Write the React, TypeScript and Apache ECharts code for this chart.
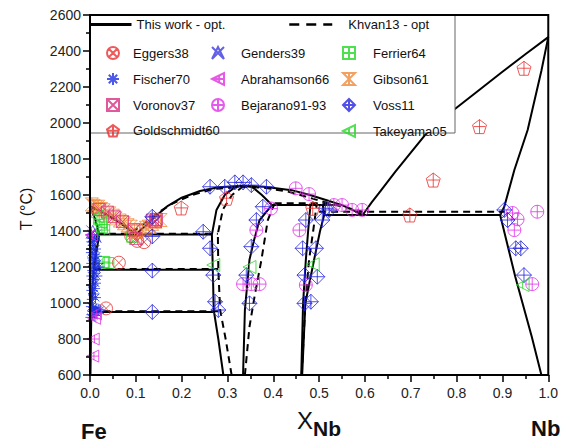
import React, { useEffect, useRef } from "react";
import * as echarts from "echarts";

// ---------- calculated phase boundaries: "This work - opt." (solid) ----------
const workLiquidusFe = [[0, 1538], [0.03, 1500], [0.06, 1455], [0.085, 1410], [0.1, 1380]];
const workLiquidusLaves = [[0.1, 1380], [0.12, 1425], [0.14, 1475], [0.17, 1540], [0.2, 1585], [0.24, 1622], [0.28, 1643], [0.333, 1652], [0.38, 1646], [0.44, 1627], [0.48, 1600], [0.52, 1568], [0.55, 1544]];
const workLiquidusMu = [[0.55, 1544], [0.575, 1515], [0.595, 1489]];
const workLiquidusNb = [[0.595, 1489], [0.615, 1560], [0.63, 1609], [0.666, 1729], [0.7, 1835], [0.731, 1933], [0.79, 2065], [0.85, 2185], [0.9, 2285], [0.95, 2382], [1.0, 2477]];
const workSolidusNb = [[1.0, 2477], [0.985, 2290], [0.955, 1961], [0.926, 1739], [0.904, 1535], [0.895, 1489]];
const workSolvusNb = [[0.895, 1489], [0.928, 1146], [0.964, 813], [0.985, 600]];
const workLavesLeft = [[0.291, 600], [0.28, 800], [0.27, 961], [0.268, 1185], [0.266, 1380], [0.276, 1517], [0.294, 1600], [0.315, 1640], [0.333, 1652]];
const workLavesRight = [[0.334, 600], [0.338, 961], [0.343, 1100], [0.348, 1240], [0.358, 1350], [0.37, 1461], [0.397, 1544]];
const workLavesTop = [[0.333, 1652], [0.354, 1645], [0.375, 1600], [0.397, 1544]];
const workPeritectic = [[0.397, 1544], [0.55, 1544]];
const workEutecticNb = [[0.511, 1489], [0.895, 1489]];
const workMuLeft = [[0.461, 600], [0.465, 1000], [0.471, 1240], [0.476, 1400], [0.481, 1544]];
const workMuRight = [[0.463, 600], [0.47, 1000], [0.489, 1240], [0.502, 1400], [0.511, 1489], [0.508, 1544]];
const workEutecticFe = [[0.02, 1380], [0.266, 1380]];
const workEutectoidHigh = [[0.008, 1185], [0.268, 1185]];
const workEutectoidLow = [[0.003, 950], [0.27, 950]];
const workFeSolidus = [[0, 1538], [0.012, 1460], [0.02, 1380]];
const workFeDelta = [[0.02, 1380], [0.015, 1300], [0.008, 1185]];
const workFeGamma = [[0.008, 1185], [0.005, 1080], [0.003, 950]];
const workFeAlpha = [[0.003, 950], [0.002, 800], [0.001, 600]];

// ---------- "Khvan13 - opt" (dashed) ----------
const khvLiquidusFe = [[0, 1538], [0.04, 1488], [0.07, 1440], [0.092, 1392]];
const khvLiquidusLaves = [[0.092, 1392], [0.12, 1445], [0.15, 1505], [0.18, 1552], [0.22, 1598], [0.27, 1633], [0.333, 1646], [0.38, 1640], [0.43, 1620], [0.47, 1592], [0.52, 1554], [0.56, 1530], [0.595, 1507]];
const khvEutecticNb = [[0.5, 1507], [0.905, 1507]];
const khvPeritectic = [[0.403, 1554], [0.52, 1554]];
const khvLavesLeft = [[0.309, 600], [0.296, 800], [0.284, 961], [0.28, 1185], [0.279, 1385], [0.29, 1520], [0.31, 1600], [0.333, 1646]];
const khvLavesRight = [[0.338, 600], [0.348, 868], [0.36, 1050], [0.374, 1239], [0.388, 1461], [0.403, 1554]];
const khvMu = [[0.462, 600], [0.47, 1000], [0.478, 1240], [0.487, 1400], [0.495, 1554]];
const khvEutecticFe = [[0.015, 1385], [0.279, 1385]];
const khvEutectoidHigh = [[0.008, 1189], [0.28, 1189]];
const khvEutectoidLow = [[0.003, 954], [0.284, 954]];
const khvFeDelta = [[0.015, 1385], [0.012, 1290], [0.008, 1189]];

// ---------- experimental data ----------
const eggers38 = [[0.035, 970], [0.063, 1224], [0.09, 1372], [0.103, 1345], [0.118, 1338]];
const genders39 = [[0.006, 1395], [0.01, 1372]];
const ferrier64 = [[0.02, 1465], [0.026, 1420], [0.031, 1405], [0.092, 1368], [0.031, 1228], [0.04, 1222]];
const fischer70 = [
  [0.003, 1380], [0.006, 1360], [0.004, 1340], [0.01, 1350], [0.008, 1320], [0.012, 1300], [0.005, 1300],
  [0.003, 1280], [0.009, 1270], [0.014, 1260], [0.006, 1250], [0.011, 1235], [0.017, 1220], [0.004, 1220],
  [0.008, 1205], [0.013, 1195], [0.02, 1200], [0.006, 1180], [0.01, 1165], [0.015, 1150], [0.004, 1150],
  [0.008, 1130], [0.012, 1110], [0.006, 1100], [0.01, 1080], [0.004, 1070], [0.008, 1050], [0.012, 1030],
  [0.005, 1020], [0.003, 980], [0.008, 975], [0.013, 970], [0.018, 965], [0.022, 960], [0.006, 955],
  [0.01, 950], [0.015, 945], [0.004, 935], [0.009, 930], [0.002, 920],
];
const abrahamson66 = [[0.003, 1378], [0.012, 940], [0.01, 915], [0.007, 800], [0.006, 705]];
const gibson61 = [
  [0.004, 1548], [0.008, 1540], [0.013, 1532], [0.018, 1535], [0.024, 1522], [0.03, 1515], [0.042, 1498],
  [0.05, 1485], [0.056, 1470], [0.065, 1458], [0.074, 1443], [0.082, 1432], [0.089, 1424], [0.097, 1405],
  [0.103, 1396], [0.114, 1406], [0.122, 1418], [0.128, 1424], [0.136, 1440], [0.143, 1452], [0.154, 1461],
];
const voronov37 = [[0.02, 1520], [0.038, 1505], [0.053, 1479], [0.071, 1452], [0.096, 1406], [0.1, 1359], [0.136, 1461], [0.143, 1452], [0.145, 1465]];
const bejarano9193 = [
  [0.334, 1105], [0.352, 1105], [0.37, 1105], [0.363, 1405], [0.395, 1525], [0.449, 1637], [0.478, 1605],
  [0.457, 1405], [0.471, 1100], [0.532, 1544], [0.55, 1544], [0.572, 1517], [0.594, 1517], [0.922, 1500],
  [0.933, 1465], [0.926, 1405], [0.976, 1507], [0.965, 1105],
];
const voss11 = [
  [0.136, 1479], [0.136, 1370], [0.136, 1180], [0.136, 950],
  [0.247, 1396], [0.262, 1304], [0.269, 1155], [0.273, 1007], [0.28, 961],
  [0.262, 1646], [0.294, 1646], [0.316, 1670], [0.334, 1670], [0.352, 1655], [0.385, 1646],
  [0.377, 1535], [0.363, 1461], [0.352, 1313], [0.341, 1155], [0.348, 998],
  [0.471, 1461], [0.507, 1461], [0.464, 1304], [0.493, 1304], [0.468, 1155], [0.496, 1146], [0.468, 998], [0.482, 1007],
  [0.514, 1526], [0.522, 1517],
  [0.904, 1517], [0.911, 1461], [0.929, 1304], [0.94, 1304], [0.947, 1155],
];
const goldschmidt60 = [[0.199, 1528], [0.298, 1582], [0.486, 1526], [0.698, 1489], [0.749, 1683], [0.85, 1980], [0.947, 2304]];
const takeyama05 = [[0.015, 1480], [0.022, 1445], [0.269, 1211], [0.348, 1200], [0.486, 1215], [0.944, 1100]];

const SOLID_NAME = "This work - opt.";
const DASH_NAME = "Khvan13 - opt";

const SYM = {
  circleX: "path://M0 10A10 10 0 1 1 20 10A10 10 0 1 1 0 10ZM2.93 2.93L17.07 17.07M17.07 2.93L2.93 17.07",
  circlePlus: "path://M0 10A10 10 0 1 1 20 10A10 10 0 1 1 0 10ZM10 0L10 20M0 10L20 10",
  squarePlus: "path://M0 0L20 0L20 20L0 20ZM10 0L10 20M0 10L20 10",
  squareX: "path://M0 0L20 0L20 20L0 20ZM0 0L20 20M20 0L0 20",
  diamondPlus: "path://M10 0L20 10L10 20L0 10ZM10 0L10 20M0 10L20 10",
  pentagonPlus: "path://M10 0L19.5 6.9L15.9 18.1L4.1 18.1L0.5 6.9ZM10 0L10 18.1M2 9L18 9",
  triLeftPlus: "path://M0 10L20 0L20 20ZM0 10L20 10M12 3L12 17",
  triLeftBar: "path://M0 10L20 0L20 20ZM10 5L10 15",
  asterisk: "path://M10 0L10 20M0 10L20 10M3 3L17 17M17 3L3 17",
  genders: "path://M0 0L20 20M20 0L0 20M0 20L10 0L20 20",
  gibson: "path://M0 0L20 0L0 20L20 20ZM10 0L10 20",
};

const scatterDefs = [
  { name: "Eggers38", data: eggers38, symbol: SYM.circleX, color: "#e8312f", size: 13 },
  { name: "Genders39", data: genders39, symbol: SYM.genders, color: "#3a3ae0", size: 13 },
  { name: "Ferrier64", data: ferrier64, symbol: SYM.squarePlus, color: "#22d822", size: 11 },
  { name: "Fischer70", data: fischer70, symbol: SYM.asterisk, color: "#1f2fe0", size: 11 },
  { name: "Abrahamson66", data: abrahamson66, symbol: SYM.triLeftPlus, color: "#e02ee0", size: 12 },
  { name: "Gibson61", data: gibson61, symbol: SYM.gibson, color: "#f08a3a", size: 13 },
  { name: "Voronov37", data: voronov37, symbol: SYM.squareX, color: "#d8307e", size: 12 },
  { name: "Bejarano91-93", data: bejarano9193, symbol: SYM.circlePlus, color: "#e030e8", size: 13 },
  { name: "Voss11", data: voss11, symbol: SYM.diamondPlus, color: "#2424e0", size: 15 },
  { name: "Goldschmidt60", data: goldschmidt60, symbol: SYM.pentagonPlus, color: "#e83030", size: 14 },
  { name: "Takeyama05", data: takeyama05, symbol: SYM.triLeftBar, color: "#28d828", size: 13 },
];

const solidCurves = [
  workLiquidusFe, workLiquidusLaves, workLiquidusMu, workLiquidusNb, workSolidusNb, workSolvusNb,
  workLavesLeft, workLavesRight, workLavesTop, workPeritectic, workEutecticNb, workMuLeft, workMuRight,
  workEutecticFe, workEutectoidHigh, workEutectoidLow, workFeSolidus, workFeDelta, workFeGamma, workFeAlpha,
];
const dashedCurves = [
  khvLiquidusFe, khvLiquidusLaves, khvEutecticNb, khvPeritectic, khvLavesLeft, khvLavesRight, khvMu,
  khvEutecticFe, khvEutectoidHigh, khvEutectoidLow, khvFeDelta,
];

const FONT = "'Liberation Sans', Arial, sans-serif";

function buildOption() {
  const series: any[] = [];
  solidCurves.forEach((d) =>
    series.push({
      type: "line", name: SOLID_NAME, data: d, symbol: "none", showSymbol: false, silent: true, z: 2,
      lineStyle: { color: "#000", width: 2 }, itemStyle: { color: "#000" },
    })
  );
  dashedCurves.forEach((d) =>
    series.push({
      type: "line", name: DASH_NAME, data: d, symbol: "none", showSymbol: false, silent: true, z: 2,
      lineStyle: { color: "#000", width: 2, type: [7, 5] }, itemStyle: { color: "#000" },
    })
  );
  scatterDefs.forEach((s) =>
    series.push({
      type: "scatter", name: s.name, data: s.data, symbol: s.symbol, symbolSize: s.size, silent: true, z: 3,
      itemStyle: { color: "rgba(0,0,0,0)", borderColor: s.color, borderWidth: 1 },
    })
  );

  const legendBase = {
    selectedMode: false, z: 20, itemHeight: 14, padding: 0,
    textStyle: { fontSize: 13, color: "#111", fontFamily: FONT },
  };
  const colLegend = (data: string[], left: number, pad: number) => ({
    ...legendBase, data, orient: "vertical", left, top: 46, itemWidth: 12, itemHeight: 12, itemGap: 12,
    textStyle: { ...legendBase.textStyle, padding: [0, 0, 0, pad] },
  });

  return {
    animation: false,
    grid: { left: 90, right: 10, top: 15, bottom: 71, show: true, borderColor: "#000", borderWidth: 2, z: 30 },
    xAxis: {
      type: "value", min: 0, max: 1, interval: 0.1, z: 30,
      axisLine: { show: true, lineStyle: { color: "#000", width: 2 } },
      axisTick: { show: true, length: 7, lineStyle: { color: "#000", width: 1.5 } },
      minorTick: { show: true, splitNumber: 2, length: 4, lineStyle: { color: "#000", width: 1.5 } },
      splitLine: { show: false },
      axisLabel: { fontSize: 14, color: "#222", fontFamily: FONT, margin: 11, formatter: (v: number) => v.toFixed(1) },
    },
    yAxis: {
      type: "value", min: 600, max: 2600, interval: 200, z: 30,
      axisLine: { show: true, lineStyle: { color: "#000", width: 2 } },
      axisTick: { show: true, length: 7, lineStyle: { color: "#000", width: 1.5 } },
      minorTick: { show: true, splitNumber: 2, length: 4, lineStyle: { color: "#000", width: 1.5 } },
      splitLine: { show: false },
      axisLabel: { fontSize: 14, color: "#222", fontFamily: FONT, margin: 9, formatter: (v: number) => String(v) },
    },
    legend: [
      {
        ...legendBase, data: [SOLID_NAME], left: 88, top: 18, itemWidth: 42,
        lineStyle: { width: 3 }, itemStyle: { opacity: 0 },
      },
      {
        ...legendBase, data: [DASH_NAME], left: 288, top: 18, itemWidth: 43,
        lineStyle: { width: 2.5, type: [10, 7] }, itemStyle: { opacity: 0 },
        textStyle: { ...legendBase.textStyle, padding: [0, 0, 0, 11] },
      },
      colLegend(["Eggers38", "Fischer70", "Voronov37", "Goldschmidt60"], 106, 9),
      colLegend(["Genders39", "Abrahamson66", "Bejarano91-93"], 211, 12),
      colLegend(["Ferrier64", "Gibson61", "Voss11", "Takeyama05"], 342, 13),
    ],
    graphic: [
      {
        type: "rect", z: 10, silent: true,
        shape: { x: 90, y: 15, width: 365, height: 118 },
        style: { fill: "#fff", stroke: "#666", lineWidth: 1 },
      },
      {
        type: "text", x: 26, y: 209, rotation: Math.PI / 2, silent: true,
        style: { text: "T (°C)", font: `16px ${FONT}`, fill: "#111", textAlign: "center", textVerticalAlign: "middle", align: "center", verticalAlign: "middle" },
      },
      {
        type: "text", x: 297, y: 420, silent: true,
        style: { text: "X", font: `24px ${FONT}`, fill: "#111", textAlign: "left", textVerticalAlign: "middle", align: "left", verticalAlign: "middle" },
      },
      {
        type: "text", x: 313, y: 428, silent: true,
        style: { text: "Nb", font: `bold 21px ${FONT}`, fill: "#111", textAlign: "left", textVerticalAlign: "middle", align: "left", verticalAlign: "middle" },
      },
      {
        type: "text", x: 81, y: 431, silent: true,
        style: { text: "Fe", font: `bold 22px ${FONT}`, fill: "#111", textAlign: "left", textVerticalAlign: "middle", align: "left", verticalAlign: "middle" },
      },
      {
        type: "text", x: 531, y: 428, silent: true,
        style: { text: "Nb", font: `bold 22px ${FONT}`, fill: "#111", textAlign: "left", textVerticalAlign: "middle", align: "left", verticalAlign: "middle" },
      },
    ],
    series,
  };
}

export default function App() {
  const ref = useRef<HTMLDivElement>(null);
  useEffect(() => {
    if (!ref.current) return;
    const chart = echarts.init(ref.current, null, { renderer: "svg" });
    chart.setOption(buildOption() as any);
    return () => chart.dispose();
  }, []);
  return <div ref={ref} style={{ position: "absolute", left: 0, top: 0, width: 561, height: 446 }} />;
}
